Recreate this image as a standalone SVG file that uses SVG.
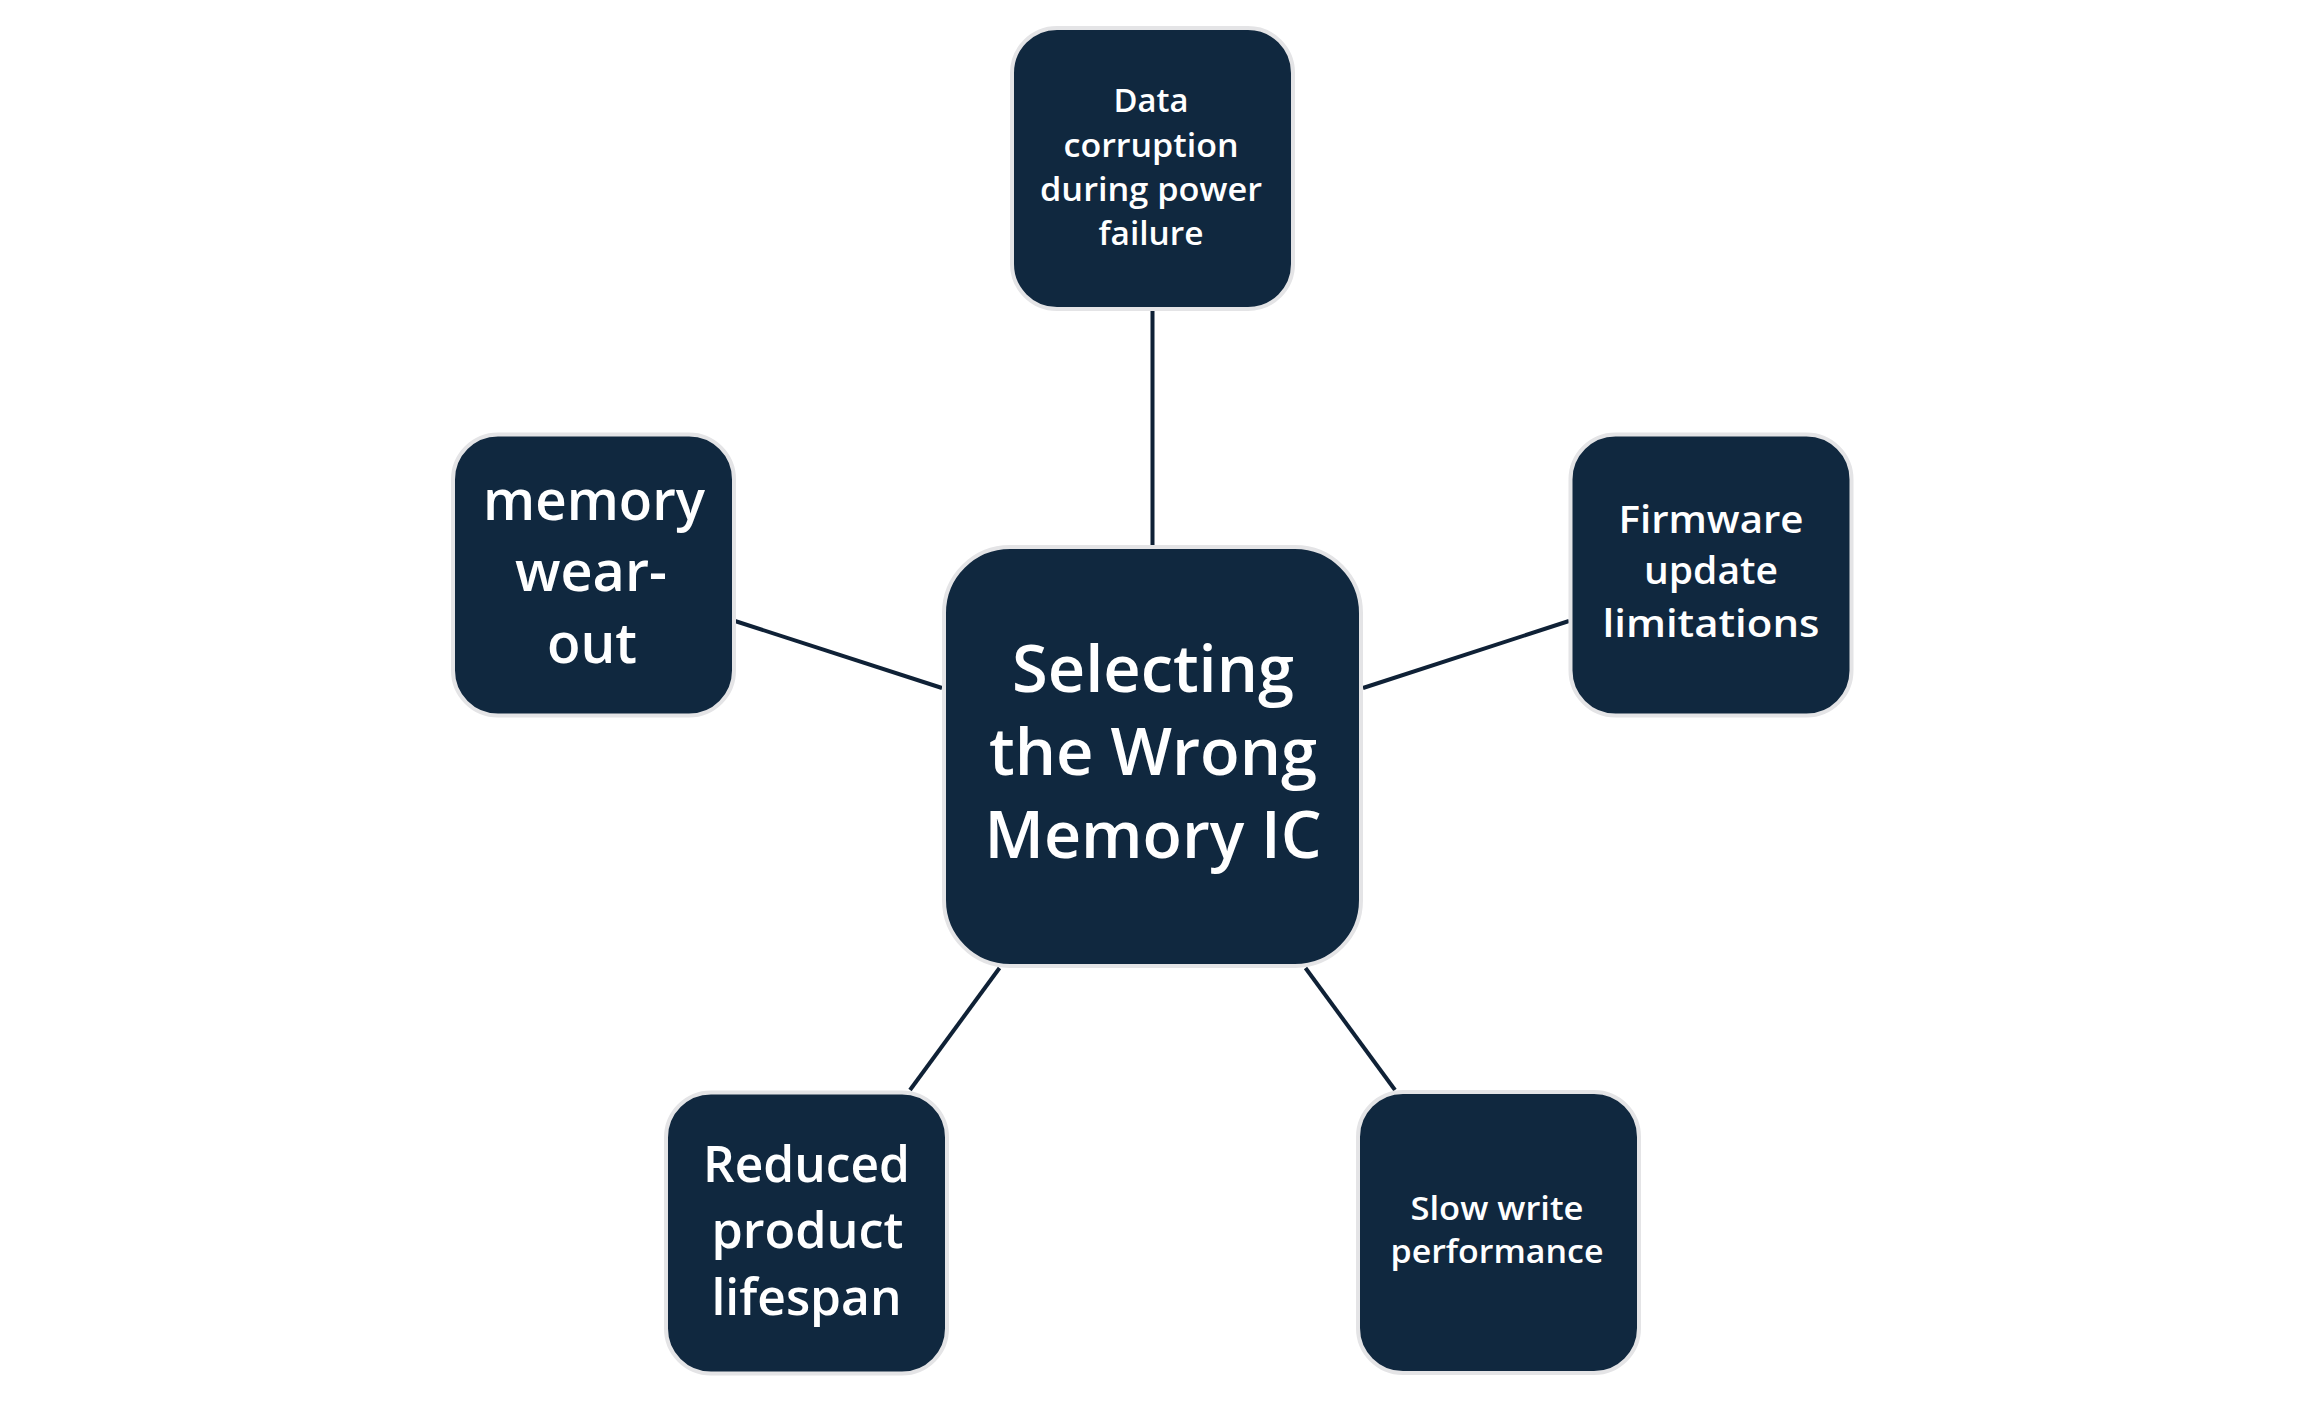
<svg xmlns="http://www.w3.org/2000/svg" width="2304" height="1401" viewBox="0 0 2304 1401">
<style>
.box{fill:#10283f;stroke:#e4e4e6;stroke-width:4}
.t{fill:#ffffff;font-family:"Open Sans","Noto Sans","Liberation Sans",sans-serif;font-weight:600;text-anchor:middle}
.edge{stroke:#0f2136;stroke-width:4;fill:none}
</style>
<rect width="2304" height="1401" fill="#ffffff"/>
<g id="connectors">
<line class="edge" x1="1152.5" y1="311" x2="1152.5" y2="545"/>
<line class="edge" x1="735" y1="621" x2="942" y2="688"/>
<line class="edge" x1="1363" y1="688" x2="1569" y2="621"/>
<line class="edge" x1="999.5" y1="968" x2="910" y2="1090"/>
<line class="edge" x1="1305.5" y1="968" x2="1395" y2="1090"/>
</g>
<g id="center">
<rect class="box" x="944" y="547" width="417" height="419" rx="66"/>
<text class="t" font-size="65"><tspan x="1153" y="692" textLength="282" lengthAdjust="spacingAndGlyphs">Selecting</tspan><tspan x="1153" y="775" textLength="328" lengthAdjust="spacingAndGlyphs">the Wrong</tspan><tspan x="1153" y="858" textLength="337" lengthAdjust="spacingAndGlyphs">Memory IC</tspan></text>
</g>
<g id="top">
<rect class="box" x="1012" y="28" width="281" height="281" rx="45"/>
<text class="t" font-size="33"><tspan x="1151" y="112" textLength="75" lengthAdjust="spacingAndGlyphs">Data</tspan><tspan x="1151" y="156.5" textLength="175" lengthAdjust="spacingAndGlyphs">corruption</tspan><tspan x="1151" y="201" textLength="222" lengthAdjust="spacingAndGlyphs">during power</tspan><tspan x="1151" y="245" textLength="105" lengthAdjust="spacingAndGlyphs">failure</tspan></text>
</g>
<g id="left">
<rect class="box" x="453" y="434.5" width="281" height="281" rx="45"/>
<text class="t" font-size="56"><tspan x="594" y="520" textLength="222" lengthAdjust="spacingAndGlyphs">memory</tspan><tspan x="591" y="591" textLength="152" lengthAdjust="spacingAndGlyphs">wear-</tspan><tspan x="592" y="663" textLength="90" lengthAdjust="spacingAndGlyphs">out</tspan></text>
</g>
<g id="right">
<rect class="box" x="1570.5" y="434.5" width="281" height="281" rx="45"/>
<text class="t" font-size="38"><tspan x="1711" y="533" textLength="185" lengthAdjust="spacingAndGlyphs">Firmware</tspan><tspan x="1711" y="584" textLength="134" lengthAdjust="spacingAndGlyphs">update</tspan><tspan x="1711" y="637" textLength="217" lengthAdjust="spacingAndGlyphs">limitations</tspan></text>
</g>
<g id="bottom-left">
<rect class="box" x="666" y="1092.5" width="281" height="281" rx="45"/>
<text class="t" font-size="51"><tspan x="806.5" y="1182" textLength="207" lengthAdjust="spacingAndGlyphs">Reduced</tspan><tspan x="807.5" y="1248" textLength="192" lengthAdjust="spacingAndGlyphs">product</tspan><tspan x="806.5" y="1315" textLength="190" lengthAdjust="spacingAndGlyphs">lifespan</tspan></text>
</g>
<g id="bottom-right">
<rect class="box" x="1358" y="1092" width="281" height="281" rx="45"/>
<text class="t" font-size="32"><tspan x="1497" y="1220" textLength="173" lengthAdjust="spacingAndGlyphs">Slow write</tspan><tspan x="1497" y="1263" textLength="213" lengthAdjust="spacingAndGlyphs">performance</tspan></text>
</g>
</svg>
